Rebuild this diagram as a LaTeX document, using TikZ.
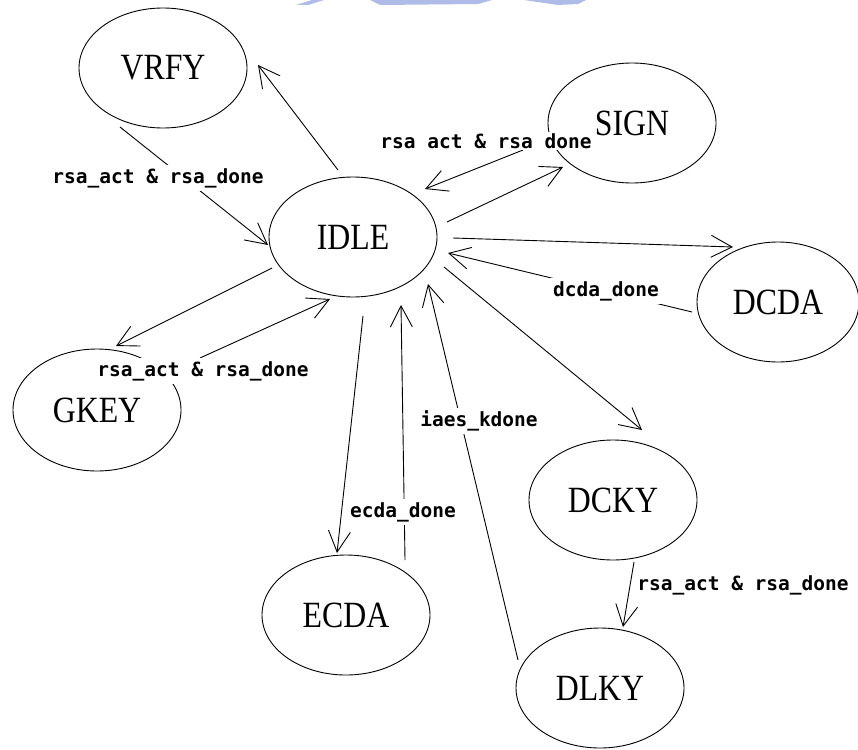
\documentclass[tikz,border=0pt]{standalone}
\usepackage{fontspec}
\usepackage{graphicx}
\setmainfont{Liberation Serif}
\newfontfamily\labelfont{DejaVu Sans Mono}
\usetikzlibrary{shapes.geometric, arrows.meta, calc}

\definecolor{markblue}{RGB}{176,188,232}
\newcommand\statename[1]{\scalebox{0.86}[1]{#1}}

\begin{document}
\begin{tikzpicture}[x=1pt, y=-1pt,
  state/.style={ellipse, draw, line width=0.9pt, minimum width=168pt,
    minimum height=120pt, inner sep=0pt, font=\fontsize{37}{37}\selectfont},
  trans/.style={line width=0.9pt,
    -{Straight Barb[length=21pt, width=22pt, line width=0.9pt]}},
  cond/.style={fill=white, inner sep=3pt,
    font=\labelfont\bfseries\fontsize{19.5}{19.5}\selectfont}]

\useasboundingbox (0,0) rectangle (858,749);
\fill[white] (0,0) rectangle (858,749);

% faint logo fragments along the top edge
\fill[markblue] (296,5) -- (312,0) -- (324,0) -- (308,5) -- cycle;
\fill[markblue] (370,0) -- (492,0) -- (478,4) -- (380,5) -- cycle;
\fill[markblue] (524,0) -- (586,0) -- (578,4) -- (558,5) -- cycle;

% states
\node[state] (VRFY) at (163,68)  {\statename{VRFY}};
\node[state] (IDLE) at (353,237) {\statename{IDLE}};
\node[state] (SIGN) at (632,123) {\statename{SIGN}};
\node[state, minimum width=162pt] (DCDA) at (778,302) {\statename{DCDA}};
\node[state, minimum height=122pt] (GKEY) at (97,410)  {\statename{GKEY}};
\node[state] (ECDA) at (346,615) {\statename{ECDA}};
\node[state] (DCKY) at (613,500) {\statename{DCKY}};
\node[state] (DLKY) at (600,688) {\statename{DLKY}};

% transitions
\draw[trans] ($(IDLE)+(-15,-67)$) -- ($(VRFY)+(95,-3)$);
\draw[trans] ($(VRFY)+(-43,59)$)  -- ($(IDLE)+(-85,8)$);
\draw[trans] ($(SIGN)+(-109,27)$) -- ($(IDLE)+(72,-48)$);
\draw[trans] ($(IDLE)+(94,-15)$)  -- ($(SIGN)+(-69,44)$);
\draw[trans] ($(IDLE)+(100,1)$)   -- ($(DCDA)+(-45,-55)$);
\draw[trans] ($(DCDA)+(-86,10)$)  -- ($(IDLE)+(95,16)$);
\draw[trans] ($(IDLE)+(91,30)$)   -- ($(DCKY)+(29,-70)$);
\draw[trans] ($(DLKY)+(-82,-28)$) -- ($(IDLE)+(75,47)$);
\draw[trans] ($(IDLE)+(10,79)$)   -- ($(ECDA)+(-9,-62)$);
\draw[trans] ($(ECDA)+(59,-55)$)  -- ($(IDLE)+(48,68)$);
\draw[trans] ($(DCKY)+(21,62)$)   -- ($(DLKY)+(23,-61)$);
\draw[trans] ($(IDLE)+(-81,31)$)  -- ($(GKEY)+(19,-64)$);
\draw[trans] ($(GKEY)+(103,-52)$) -- ($(IDLE)+(-23,62)$);

% transition conditions
\node[cond] (c1) at (158,178) {rsa\_act \& rsa\_done};
\node[cond, inner sep=1pt] (c2) at (486,141) {rsa act \& rsa done};
\node[cond] (c3) at (606,291) {dcda\_done};
\node[cond] (c4) at (203,371) {rsa\_act \& rsa\_done};
\node[cond] (c5) at (479,421) {iaes\_kdone};
\node[cond] (c6) at (403,512) {ecda\_done};
\node[cond] (c7) at (743,585) {rsa\_act \& rsa\_done};

\end{tikzpicture}
\end{document}
